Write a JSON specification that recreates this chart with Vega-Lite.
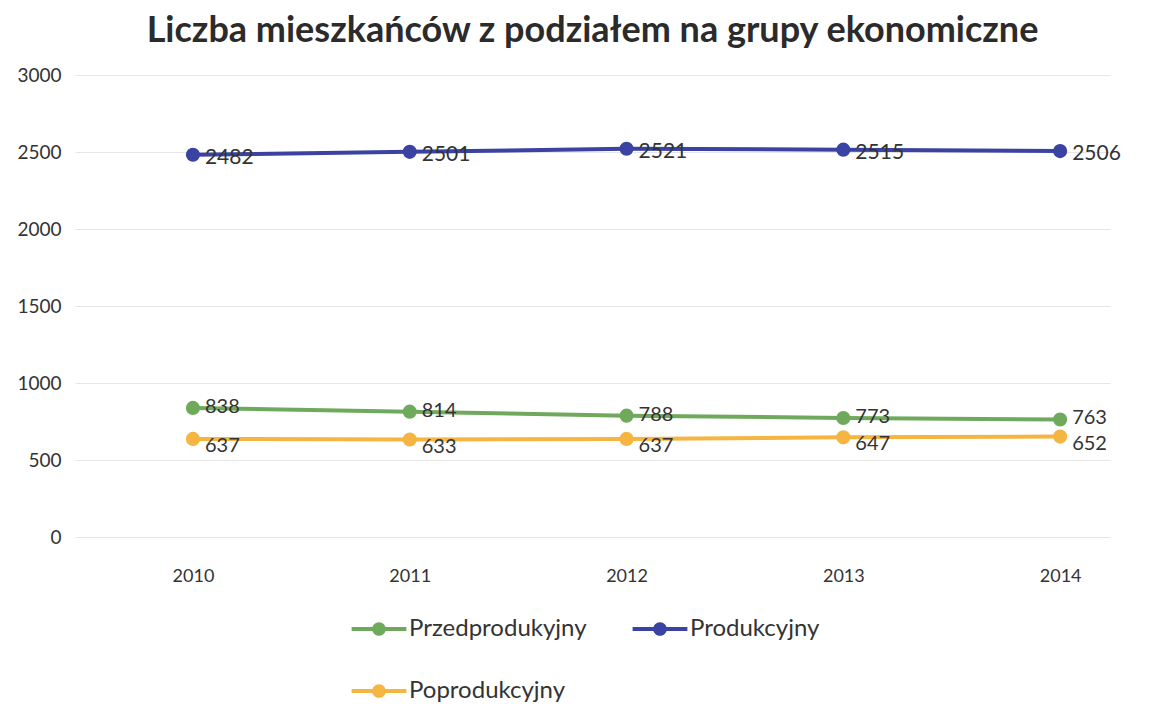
{
  "$schema": "https://vega.github.io/schema/vega-lite/v6.json",
  "width": 1035,
  "height": 462,
  "padding": {"left": 16, "top": 13, "right": 5, "bottom": 5},
  "background": "white",
  "config": {"view": {"stroke": null}, "legend": {"layout": {"bottom": {"anchor": "middle"}}}},
  "title": {"text": "Liczba mieszkańców z podziałem na grupy ekonomiczne", "font": "Lato", "fontSize": 36, "fontWeight": "bold", "color": "#2b2b2b", "anchor": "middle", "offset": 16},
  "data": {"values": [
    {"rok": 2010, "grupa": "Przedprodukyjny", "wartosc": 838},
    {"rok": 2011, "grupa": "Przedprodukyjny", "wartosc": 814},
    {"rok": 2012, "grupa": "Przedprodukyjny", "wartosc": 788},
    {"rok": 2013, "grupa": "Przedprodukyjny", "wartosc": 773},
    {"rok": 2014, "grupa": "Przedprodukyjny", "wartosc": 763},
    {"rok": 2010, "grupa": "Produkcyjny", "wartosc": 2482},
    {"rok": 2011, "grupa": "Produkcyjny", "wartosc": 2501},
    {"rok": 2012, "grupa": "Produkcyjny", "wartosc": 2521},
    {"rok": 2013, "grupa": "Produkcyjny", "wartosc": 2515},
    {"rok": 2014, "grupa": "Produkcyjny", "wartosc": 2506},
    {"rok": 2010, "grupa": "Poprodukcyjny", "wartosc": 637},
    {"rok": 2011, "grupa": "Poprodukcyjny", "wartosc": 633},
    {"rok": 2012, "grupa": "Poprodukcyjny", "wartosc": 637},
    {"rok": 2013, "grupa": "Poprodukcyjny", "wartosc": 647},
    {"rok": 2014, "grupa": "Poprodukcyjny", "wartosc": 652}
  ]},
  "encoding": {
    "x": {"field": "rok", "type": "quantitative", "scale": {"domain": [2009.456, 2014.23], "nice": false, "zero": false},
      "axis": {"title": null, "values": [2010, 2011, 2012, 2013, 2014], "format": "d", "grid": false, "domain": false, "ticks": false, "labelPadding": 30, "labelFont": "Lato", "labelFontSize": 18, "labelColor": "#333333"}},
    "y": {"field": "wartosc", "type": "quantitative", "scale": {"domain": [0, 3000], "nice": false},
      "axis": {"title": null, "values": [0, 500, 1000, 1500, 2000, 2500, 3000], "format": "d", "domain": false, "ticks": false, "labelPadding": 14, "labelFont": "Lato", "labelFontSize": 19, "labelColor": "#333333", "gridColor": "#e6e6e6", "gridWidth": 1}},
    "color": {"field": "grupa", "type": "nominal",
      "scale": {"domain": ["Przedprodukyjny", "Produkcyjny", "Poprodukcyjny"], "range": ["#6faa5c", "#3a42a3", "#f6b440"]},
      "legend": {"title": null, "orient": "bottom", "direction": "horizontal", "columns": 2, "offset": 30, "rowPadding": 36, "columnPadding": 45,
        "labelFont": "Lato", "labelFontSize": 24, "labelColor": "#333333", "labelOffset": 16, "labelLimit": 400,
        "symbolType": "M -2 -0.15 L 2 -0.15 L 2 0.15 L -2 0.15 Z M 0.5 0 A 0.5 0.5 0 1 1 -0.5 0 A 0.5 0.5 0 1 1 0.5 0 Z",
        "symbolSize": 750, "symbolStrokeWidth": 0, "symbolOpacity": 1}}
  },
  "layer": [
    {"mark": {"type": "line", "strokeWidth": 4}, "encoding": {}},
    {"mark": {"type": "point", "filled": true, "size": 200, "opacity": 1}, "encoding": {}},
    {"transform": [{"filter": "datum.grupa === 'Produkcyjny'"}],
      "mark": {"type": "text", "align": "left", "baseline": "middle", "dx": 12, "dy": 3, "font": "Lato", "fontSize": 21, "color": "#333333"},
      "encoding": {"text": {"field": "wartosc", "type": "quantitative"}, "color": {"value": "#333333"}}},
    {"transform": [{"filter": "datum.grupa === 'Przedprodukyjny'"}],
      "mark": {"type": "text", "align": "left", "baseline": "middle", "dx": 12, "dy": -1, "font": "Lato", "fontSize": 20, "color": "#333333"},
      "encoding": {"text": {"field": "wartosc", "type": "quantitative"}, "color": {"value": "#333333"}}},
    {"transform": [{"filter": "datum.grupa === 'Poprodukcyjny'"}],
      "mark": {"type": "text", "align": "left", "baseline": "middle", "dx": 12, "dy": 7, "font": "Lato", "fontSize": 20, "color": "#333333"},
      "encoding": {"text": {"field": "wartosc", "type": "quantitative"}, "color": {"value": "#333333"}}}
  ]
}
